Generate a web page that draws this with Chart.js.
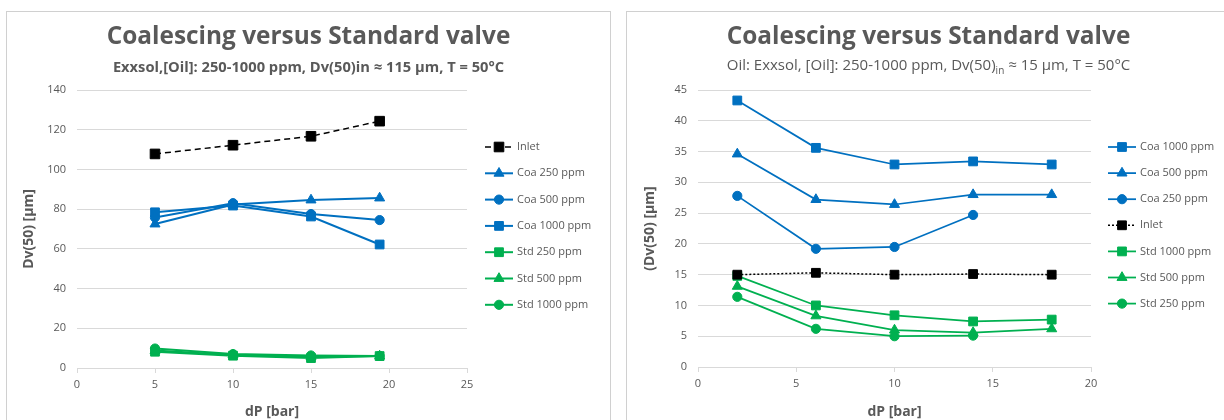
<!DOCTYPE html>
<html>
<head>
<meta charset="utf-8">
<script src="https://cdn.jsdelivr.net/npm/chart.js@4.4.1/dist/chart.umd.min.js"></script>
<style>
  html, body { margin: 0; padding: 0; background: #fff; overflow: hidden; }
  body { width: 1224px; height: 420px; position: relative; }
  .panel { position: absolute; border: 1px solid #d0d0d0; background: #fff; width: 603px; height: 420px; }
  #panelA { left: 6px; top: 11px; }
  #panelB { left: 626px; top: 11px; }
  .panel canvas { position: absolute; left: 0; top: 0; }
</style>
</head>
<body>
<div class="panel" id="panelA"><canvas id="chartA" width="603" height="408"></canvas></div>
<div class="panel" id="panelB"><canvas id="chartB" width="603" height="408"></canvas></div>
<script>
// ---------- Chart A: inlet Dv(50) ≈ 115 µm ----------
const dpA = [5, 10, 15, 19.4];
const inletA = [107.8, 112.2, 116.7, 124.3];
const coa250A = [72.5, 82.3, 84.6, 85.6];
const coa500A = [75.8, 83.0, 77.5, 74.5];
const coa1000A = [78.4, 81.8, 76.3, 62.2];
const std250A = [8.2, 6.2, 5.0, 6.0];
const std500A = [8.8, 6.6, 5.7, 6.0];
const std1000A = [9.8, 7.0, 6.3, 6.1];
const xRangeA = [0, 25, 5];
const yRangeA = [0, 140, 20];

// ---------- Chart B: inlet Dv(50) ≈ 15 µm ----------
const dpB = [2, 6, 10, 14, 18];
const coa1000B = [43.3, 35.6, 32.9, 33.4, 32.9];
const coa500B = [34.6, 27.2, 26.4, 28.0, 28.0];
const coa250B = [27.8, 19.2, 19.5, 24.7];
const inletB = [15.0, 15.3, 15.0, 15.1, 15.0];
const std1000B = [14.8, 10.0, 8.4, 7.4, 7.7];
const std500B = [13.1, 8.3, 6.0, 5.6, 6.2];
const std250B = [11.4, 6.2, 5.0, 5.1];
const xRangeB = [0, 20, 5];
const yRangeB = [0, 45, 5];

const titleText = 'Coalescing versus Standard valve';
const subtitleA = [{ text: 'Exxsol,[Oil]: 250-1000 ppm, Dv(50)in ≈ 115 µm, T = 50°C' }];
const subtitleB = [
  { text: 'Oil: Exxsol, [Oil]: 250-1000 ppm, Dv(50)' },
  { text: 'in', sub: true },
  { text: ' ≈ 15 µm, T = 50°C' }
];
const xTitle = 'dP [bar]';
const yTitleA = 'Dv(50) [µm]';
const yTitleB = '(Dv(50) [µm]';

const FONT = '"Open Sans", "DejaVu Sans", sans-serif';
const TEXT = '#595959';
const BLUE = '#0070C0';
const GREEN = '#00B050';
const BLACK = '#000000';
const GRID = '#d9d9d9';

const pts = (xs, ys) => ys.map((y, i) => ({ x: xs[i], y }));

const markerSize = { rect: 6.2, circle: 4.6, triangle: 5.8 };

function series(label, xs, ys, color, marker, extra) {
  return Object.assign({
    label,
    data: pts(xs, ys),
    showLine: true,
    fill: false,
    tension: 0,
    borderColor: color,
    backgroundColor: color,
    borderWidth: 2,
    pointStyle: marker,
    pointRadius: markerSize[marker],
    pointHoverRadius: markerSize[marker],
    pointBackgroundColor: color,
    pointBorderColor: color,
    pointBorderWidth: 1
  }, extra || {});
}

// Heading block: title plus a subtitle line that may contain subscript runs,
// both centered on the full canvas width
const heading = {
  id: 'heading',
  afterDraw(chart, args, o) {
    const ctx = chart.ctx;
    const cx = chart.width / 2;
    ctx.save();
    ctx.fillStyle = TEXT;
    ctx.textBaseline = 'middle';

    ctx.textAlign = 'center';
    ctx.font = `bold ${o.titleSize}px ${FONT}`;
    ctx.fillText(o.title, cx, o.titleY);

    const main = `${o.weight} ${o.size}px ${FONT}`;
    const small = `${o.weight} ${Math.round(o.size * 0.68)}px ${FONT}`;
    let total = 0;
    o.parts.forEach(p => { ctx.font = p.sub ? small : main; total += ctx.measureText(p.text).width; });
    let x = cx - total / 2;
    ctx.textAlign = 'left';
    o.parts.forEach(p => {
      ctx.font = p.sub ? small : main;
      ctx.fillText(p.text, x, p.sub ? o.y + o.size * 0.38 : o.y);
      x += ctx.measureText(p.text).width;
    });
    ctx.restore();
  }
};

function drawMarker(ctx, style, r, x, y) {
  ctx.beginPath();
  if (style === 'circle') {
    ctx.arc(x, y, r, 0, Math.PI * 2);
  } else if (style === 'triangle') {
    ctx.moveTo(x, y - r);
    ctx.lineTo(x + r * Math.sin(Math.PI / 3), y + r / 2);
    ctx.lineTo(x - r * Math.sin(Math.PI / 3), y + r / 2);
    ctx.closePath();
  } else {
    const s = r * Math.SQRT1_2;
    ctx.rect(x - s, y - s, 2 * s, 2 * s);
  }
  ctx.fill();
  ctx.stroke();
}

// Legend drawn as line-with-marker samples, one row per dataset
const seriesKey = {
  id: 'seriesKey',
  afterDraw(chart, args, o) {
    const ctx = chart.ctx;
    const x0 = chart.chartArea.right + o.offset;
    chart.data.datasets.forEach((ds, i) => {
      const y = o.top + i * o.step;
      ctx.save();
      ctx.strokeStyle = ds.borderColor;
      ctx.lineWidth = ds.borderWidth;
      ctx.setLineDash(ds.borderDash || []);
      ctx.beginPath();
      ctx.moveTo(x0, y);
      ctx.lineTo(x0 + o.sample, y);
      ctx.stroke();
      ctx.setLineDash([]);
      ctx.fillStyle = ds.pointBackgroundColor;
      ctx.strokeStyle = ds.pointBorderColor;
      ctx.lineWidth = ds.pointBorderWidth;
      drawMarker(ctx, ds.pointStyle, ds.pointRadius, x0 + o.sample / 2, y);
      ctx.fillStyle = TEXT;
      ctx.font = `11px ${FONT}`;
      ctx.textBaseline = 'middle';
      ctx.textAlign = 'left';
      ctx.fillText(ds.label, x0 + o.sample + o.gap, y);
      ctx.restore();
    });
  }
};

function buildOptions(cfg) {
  return {
    responsive: false,
    animation: false,
    events: [],
    layout: { padding: { left: 0, right: cfg.rightPad, top: cfg.topPad, bottom: 0 } },
    plugins: {
      legend: { display: false },
      tooltip: { enabled: false },
      title: { display: false },
      heading: cfg.heading,
      seriesKey: cfg.key
    },
    scales: {
      x: {
        type: 'linear',
        min: cfg.xRange[0], max: cfg.xRange[1],
        ticks: { stepSize: cfg.xRange[2], color: TEXT, font: { family: FONT, size: 11 }, padding: 5 },
        grid: { display: true, drawOnChartArea: false, drawTicks: true, tickLength: 5, color: GRID },
        border: { display: true, color: GRID, width: 1 },
        title: { display: true, text: xTitle, color: TEXT, font: { family: FONT, size: 14, weight: 'bold' }, padding: { top: 0, bottom: 0 } },
        afterFit(s) { s.height = cfg.xHeight; }
      },
      y: {
        type: 'linear',
        min: cfg.yRange[0], max: cfg.yRange[1],
        ticks: { stepSize: cfg.yRange[2], color: TEXT, font: { family: FONT, size: 11 }, padding: 11 },
        grid: { color: GRID, drawTicks: false, lineWidth: 1 },
        border: { display: false },
        title: { display: true, text: cfg.yTitle, color: TEXT, font: { family: FONT, size: 14, weight: 'bold' }, padding: { top: cfg.yTitlePad, bottom: 0 } },
        afterFit(s) { s.width = cfg.yWidth; }
      }
    }
  };
}

new Chart(document.getElementById('chartA'), {
  type: 'scatter',
  data: {
    datasets: [
      series('Inlet', dpA, inletA, BLACK, 'rect', { borderWidth: 1.5, borderDash: [6, 4], pointRadius: 6.8 }),
      series('Coa 250 ppm', dpA, coa250A, BLUE, 'triangle'),
      series('Coa 500 ppm', dpA, coa500A, BLUE, 'circle'),
      series('Coa 1000 ppm', dpA, coa1000A, BLUE, 'rect'),
      series('Std 250 ppm', dpA, std250A, GREEN, 'rect'),
      series('Std 500 ppm', dpA, std500A, GREEN, 'triangle'),
      series('Std 1000 ppm', dpA, std1000A, GREEN, 'circle')
    ]
  },
  options: buildOptions({
    rightPad: 143, topPad: 78, xRange: xRangeA, yRange: yRangeA,
    xHeight: 52, yWidth: 70, yTitle: yTitleA, yTitlePad: 14,
    heading: { title: titleText, titleSize: 24.4, titleY: 25, parts: subtitleA, size: 14.7, weight: 'bold', y: 56 },
    key: { offset: 18, top: 135, step: 26.3, sample: 28, gap: 4 }
  }),
  plugins: [heading, seriesKey]
});

new Chart(document.getElementById('chartB'), {
  type: 'scatter',
  data: {
    datasets: [
      series('Coa 1000 ppm', dpB, coa1000B, BLUE, 'rect', { borderWidth: 1.75 }),
      series('Coa 500 ppm', dpB, coa500B, BLUE, 'triangle', { borderWidth: 1.75 }),
      series('Coa 250 ppm', dpB, coa250B, BLUE, 'circle', { borderWidth: 1.75 }),
      series('Inlet', dpB, inletB, BLACK, 'rect', { borderWidth: 1.5, borderDash: [2, 2] }),
      series('Std 1000 ppm', dpB, std1000B, GREEN, 'rect', { borderWidth: 1.75 }),
      series('Std 500 ppm', dpB, std500B, GREEN, 'triangle', { borderWidth: 1.75 }),
      series('Std 250 ppm', dpB, std250B, GREEN, 'circle', { borderWidth: 1.75 })
    ]
  },
  options: buildOptions({
    rightPad: 139, topPad: 78, xRange: xRangeB, yRange: yRangeB,
    xHeight: 53, yWidth: 71, yTitle: yTitleB, yTitlePad: 15,
    heading: { title: titleText, titleSize: 24.4, titleY: 25, parts: subtitleB, size: 15, weight: 'normal', y: 53.5 },
    key: { offset: 17, top: 135, step: 26.1, sample: 28, gap: 4 }
  }),
  plugins: [heading, seriesKey]
});
</script>
</body>
</html>
